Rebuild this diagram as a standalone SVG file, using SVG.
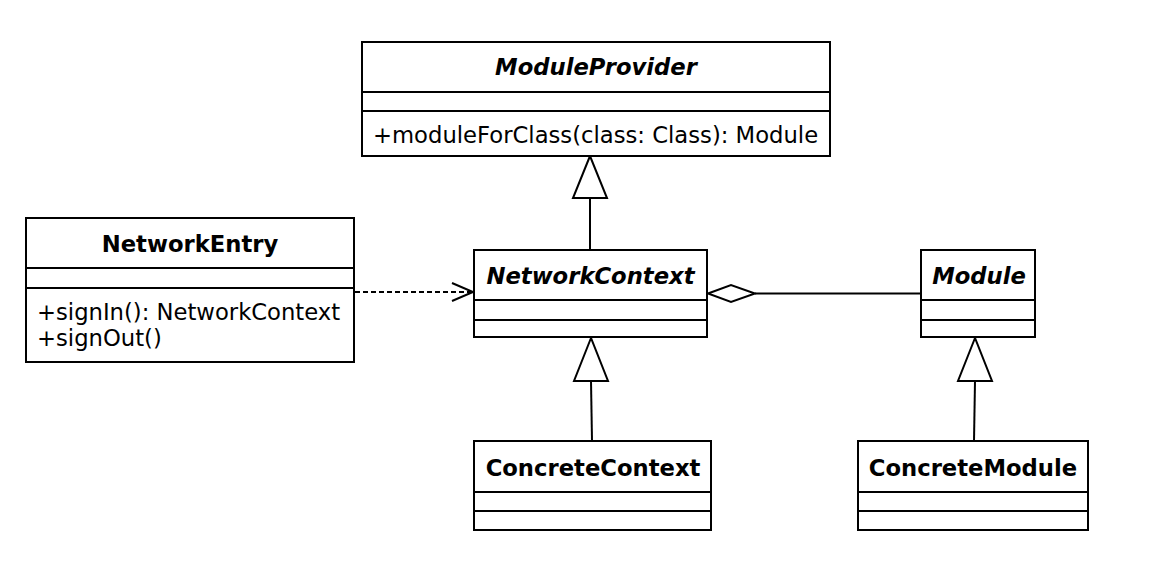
<svg xmlns="http://www.w3.org/2000/svg" width="1162" height="588" viewBox="0 0 1162 588">
<style>
.box{fill:#fff;stroke:#000;stroke-width:2}
.div{stroke:#000;stroke-width:2}
.t{font-family:"DejaVu Sans",Verdana,sans-serif;font-size:22.7px;fill:#000}
.title{font-weight:bold;text-anchor:middle}
.abs{font-style:italic}
.edge{stroke:#000;stroke-width:2;fill:none}
.dash{stroke-dasharray:5,3}
.hollow{fill:#fff;stroke:#000;stroke-width:2}
</style>
<rect width="1162" height="588" fill="#fff"/>
<g id="connectors">
  <line class="edge" x1="590" y1="249" x2="590" y2="198"/>
  <polygon class="hollow" points="590,156 573,198 607,198"/>
  <line class="edge" x1="592" y1="441" x2="591" y2="381"/>
  <polygon class="hollow" points="591,338 574,381 608,381"/>
  <line class="edge" x1="974" y1="441" x2="975" y2="381"/>
  <polygon class="hollow" points="975,338 958,381 992,381"/>
  <line class="edge dash" x1="355" y1="292" x2="472" y2="292"/>
  <polyline class="edge" points="452,283 473,292 452,301"/>
  <line class="edge" x1="755" y1="293.5" x2="921" y2="293.5"/>
  <polygon class="hollow" points="708,293.5 731,285 755,293.5 731,302"/>
</g>
<g id="ModuleProvider">
  <rect class="box" x="362" y="42" width="468" height="114"/>
  <line class="div" x1="362" y1="92" x2="830" y2="92"/>
  <line class="div" x1="362" y1="111" x2="830" y2="111"/>
  <text class="t title abs" x="596" y="75">ModuleProvider</text>
  <text class="t" x="373" y="142.5">+moduleForClass(class: Class): Module</text>
</g>
<g id="NetworkEntry">
  <rect class="box" x="26" y="218" width="328" height="144"/>
  <line class="div" x1="26" y1="268" x2="354" y2="268"/>
  <line class="div" x1="26" y1="288" x2="354" y2="288"/>
  <text class="t title" x="190" y="252">NetworkEntry</text>
  <text class="t" x="37" y="319.5">+signIn(): NetworkContext</text>
  <text class="t" x="37" y="345.5">+signOut()</text>
</g>
<g id="NetworkContext">
  <rect class="box" x="474" y="250" width="233" height="87"/>
  <line class="div" x1="474" y1="300" x2="707" y2="300"/>
  <line class="div" x1="474" y1="320" x2="707" y2="320"/>
  <text class="t title abs" x="590.5" y="284">NetworkContext</text>
</g>
<g id="Module">
  <rect class="box" x="921" y="250" width="114" height="87"/>
  <line class="div" x1="921" y1="300" x2="1035" y2="300"/>
  <line class="div" x1="921" y1="320" x2="1035" y2="320"/>
  <text class="t title abs" x="979" y="284">Module</text>
</g>
<g id="ConcreteContext">
  <rect class="box" x="474" y="441" width="237" height="89"/>
  <line class="div" x1="474" y1="492" x2="711" y2="492"/>
  <line class="div" x1="474" y1="511" x2="711" y2="511"/>
  <text class="t title" x="593" y="476">ConcreteContext</text>
</g>
<g id="ConcreteModule">
  <rect class="box" x="858" y="441" width="230" height="89"/>
  <line class="div" x1="858" y1="492" x2="1088" y2="492"/>
  <line class="div" x1="858" y1="511" x2="1088" y2="511"/>
  <text class="t title" x="973" y="476">ConcreteModule</text>
</g>
</svg>
